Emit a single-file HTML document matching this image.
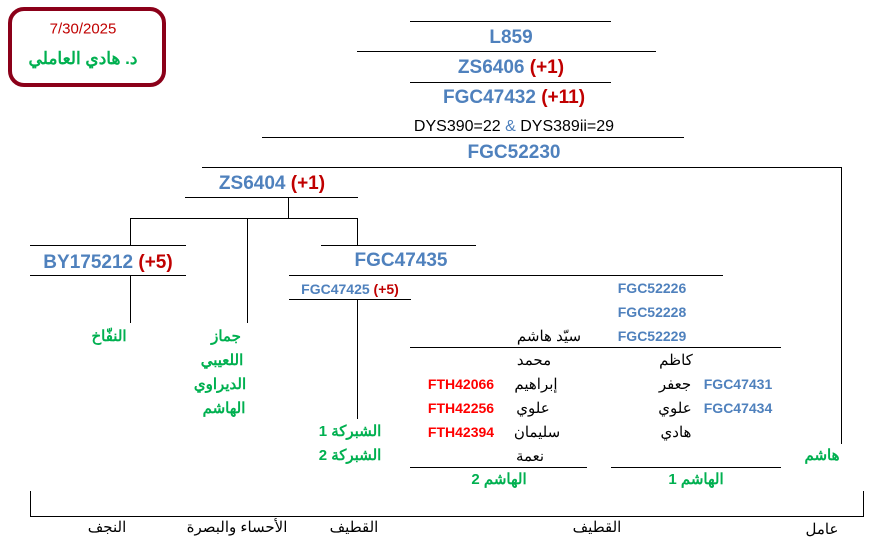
<!DOCTYPE html>
<html><head><meta charset="utf-8"><style>
body{margin:0;width:895px;height:558px;background:#fff;position:relative;overflow:hidden;font-family:"Liberation Sans","Noto Sans CJK SC",sans-serif}
.h{position:absolute;height:1px;background:#000}
.v{position:absolute;width:1px;background:#000}
.t{position:absolute;transform:translate(-50%,-50%);white-space:nowrap;font-weight:bold}
.b{color:#4f81bd}.r{color:#c00000}.g{color:#00b050}.k{color:#000;font-weight:normal}.fr{color:#ff0000}
.l{font-size:19px}.m{font-size:15px}.s{font-size:14px}.a{font-size:15px}
</style></head><body>
<div style="position:absolute;left:8px;top:7px;width:150px;height:72px;border:4px solid #8b0019;border-radius:16px"></div>
<div class="t r" style="left:83px;top:29px;font-size:15px;font-weight:normal">7/30/2025</div>
<div class="t g" style="left:83px;top:59px;font-size:17px">د. هادي العاملي</div>

<div class="h" style="left:410px;top:21px;width:201px"></div>
<div class="t b l" style="left:511px;top:38px">L859</div>
<div class="h" style="left:357px;top:51px;width:299px"></div>
<div class="t b l" style="left:511px;top:68px">ZS6406 <span class="r">(+1)</span></div>
<div class="h" style="left:410px;top:82px;width:201px"></div>
<div class="t b l" style="left:514px;top:98px">FGC47432 <span class="r">(+11)</span></div>
<div class="t k" style="left:514px;top:127px;font-size:16px">DYS390=22 <span class="b">&amp;</span> DYS389ii=29</div>
<div class="h" style="left:262px;top:137px;width:422px"></div>
<div class="t b l" style="left:514px;top:153px">FGC52230</div>
<div class="h" style="left:202px;top:167px;width:640px"></div>
<div class="v" style="left:841px;top:167px;height:277px"></div>
<div class="t b l" style="left:272px;top:184px">ZS6404 <span class="r">(+1)</span></div>
<div class="h" style="left:185px;top:197px;width:173px"></div>
<div class="v" style="left:288px;top:197px;height:21px"></div>
<div class="h" style="left:130px;top:218px;width:228px"></div>
<div class="v" style="left:130px;top:218px;height:27px"></div>
<div class="v" style="left:247px;top:218px;height:105px"></div>
<div class="v" style="left:357px;top:218px;height:27px"></div>
<div class="h" style="left:30px;top:245px;width:156px"></div>
<div class="h" style="left:321px;top:245px;width:155px"></div>
<div class="t b l" style="left:108px;top:263px">BY175212 <span class="r">(+5)</span></div>
<div class="t b l" style="left:401px;top:261px">FGC47435</div>
<div class="h" style="left:30px;top:275px;width:156px"></div>
<div class="h" style="left:289px;top:275px;width:434px"></div>
<div class="v" style="left:130px;top:275px;height:48px"></div>
<div class="t b s" style="left:350px;top:289px">FGC47425 <span class="r">(+5)</span></div>
<div class="h" style="left:289px;top:299px;width:122px"></div>
<div class="v" style="left:357px;top:299px;height:120px"></div>

<div class="t g a" style="left:109px;top:336px">النفّاخ</div>
<div class="t g a" style="left:226px;top:336px">جماز</div>
<div class="t g a" style="left:222px;top:360px">اللعيبي</div>
<div class="t g a" style="left:220px;top:384px">الديراوي</div>
<div class="t g a" style="left:224px;top:408px">الهاشم</div>
<div class="t g a" style="left:350px;top:431px">الشبركة 1</div>
<div class="t g a" style="left:350px;top:455px">الشبركة 2</div>

<div class="t b s" style="left:652px;top:288px">FGC52226</div>
<div class="t b s" style="left:652px;top:312px">FGC52228</div>
<div class="t b s" style="left:652px;top:336px">FGC52229</div>
<div class="t k a" style="left:549px;top:336px">سيّد هاشم</div>
<div class="h" style="left:410px;top:347px;width:371px"></div>
<div class="t k a" style="left:534px;top:360px">محمد</div>
<div class="t k a" style="left:676px;top:360px">كاظم</div>
<div class="t fr s" style="left:461px;top:384px">FTH42066</div>
<div class="t k a" style="left:536px;top:384px">إبراهيم</div>
<div class="t k a" style="left:675px;top:384px">جعفر</div>
<div class="t b s" style="left:738px;top:384px">FGC47431</div>
<div class="t fr s" style="left:461px;top:408px">FTH42256</div>
<div class="t k a" style="left:533px;top:408px">علوي</div>
<div class="t k a" style="left:675px;top:408px">علوي</div>
<div class="t b s" style="left:738px;top:408px">FGC47434</div>
<div class="t fr s" style="left:461px;top:432px">FTH42394</div>
<div class="t k a" style="left:537px;top:432px">سليمان</div>
<div class="t k a" style="left:676px;top:432px">هادي</div>
<div class="t k a" style="left:530px;top:456px">نعمة</div>
<div class="t g a" style="left:822px;top:455px">هاشم</div>
<div class="h" style="left:410px;top:467px;width:177px"></div>
<div class="h" style="left:611px;top:467px;width:170px"></div>
<div class="t g a" style="left:499px;top:479px">الهاشم 2</div>
<div class="t g a" style="left:696px;top:479px">الهاشم 1</div>

<div class="v" style="left:30px;top:491px;height:25px"></div>
<div class="v" style="left:863px;top:491px;height:25px"></div>
<div class="h" style="left:30px;top:516px;width:834px"></div>
<div class="t k a" style="left:107px;top:527px">النجف</div>
<div class="t k a" style="left:237px;top:527px">الأحساء والبصرة</div>
<div class="t k a" style="left:354px;top:527px">القطيف</div>
<div class="t k a" style="left:597px;top:527px">القطيف</div>
<div class="t k a" style="left:822px;top:529px">عامل</div>
</body></html>
